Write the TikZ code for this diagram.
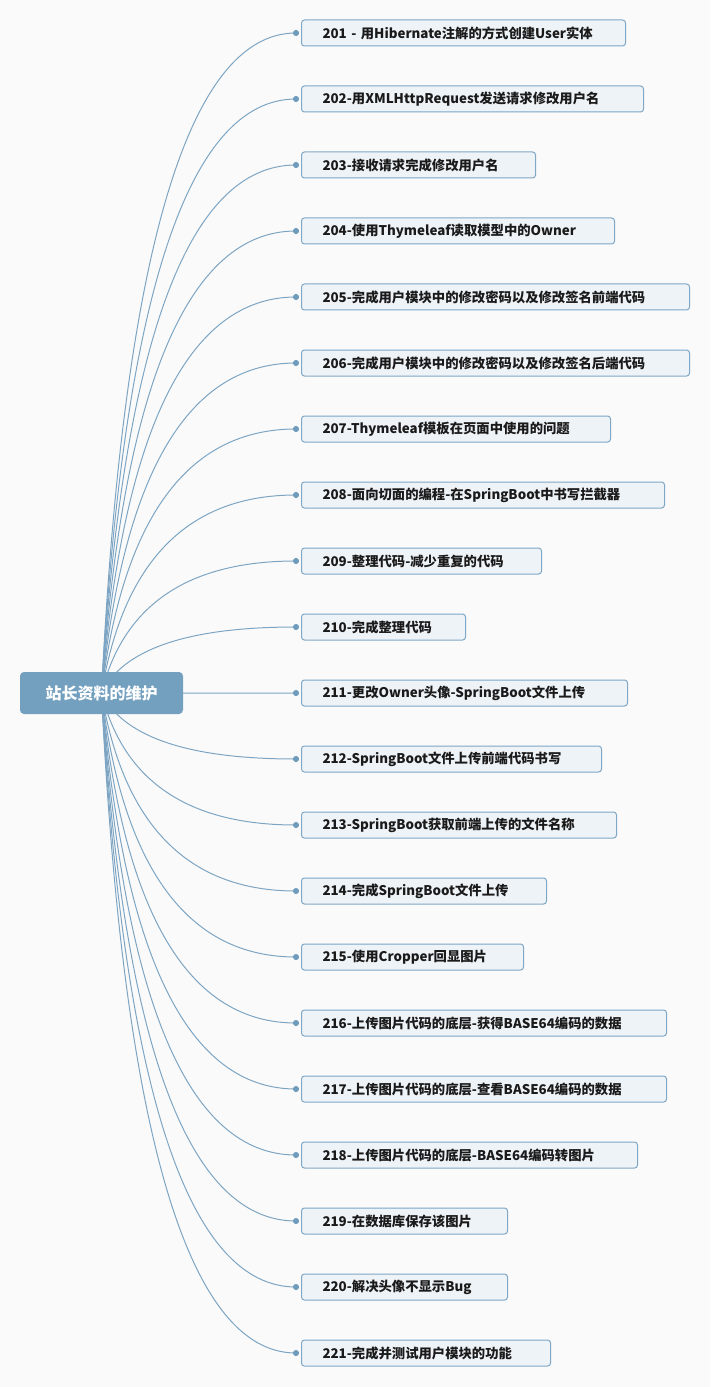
\documentclass[tikz,border=0pt]{standalone}
\usepackage{fontspec}
\setmainfont{Noto Sans CJK SC}
\newfontfamily\cjk{Noto Sans CJK SC}
\usetikzlibrary{calc}
\pgfdeclarelayer{bg}\pgfdeclarelayer{edges}
\pgfsetlayers{bg,edges,main}
\definecolor{pagebg}{HTML}{FAFAFA}
\definecolor{rootfill}{HTML}{74A0C0}
\definecolor{edgec}{HTML}{7DA5C3}
\definecolor{boxfill}{HTML}{EEF3F7}
\definecolor{boxdraw}{HTML}{7FA7C6}
\definecolor{dotc}{HTML}{6F9BBD}
\definecolor{txt}{HTML}{1A1A1A}
\tikzset{
  rootbox/.style={fill=rootfill, rounded corners=3pt, minimum width=122.25pt, minimum height=31.5pt,
    text=white, font=\cjk\bfseries\fontsize{12pt}{14pt}\selectfont, inner sep=0pt},
  childbox/.style={fill=boxfill, draw=boxdraw, line width=0.75pt, rounded corners=2.2pt,
    minimum height=19.5pt, inner xsep=15.75pt, inner ysep=0pt, align=left, anchor=west,
    text=txt, font=\cjk\bfseries\fontsize{10pt}{11.5pt}\selectfont},
  edge/.style={draw=edgec, line width=0.75pt},
  dotmark/.style={fill=dotc}
}
\begin{document}
\begin{tikzpicture}[x=0.75pt,y=-0.75pt]
\begin{pgfonlayer}{bg}
\fill[pagebg] (0,0) rectangle (710,1387);
\end{pgfonlayer}
\useasboundingbox (0,0) rectangle (710,1387);
\node[rootbox] (root) at (101.5,693) {站长资料的维护};
\coordinate (cx) at (134,693);
\foreach \n/\r/\t [count=\i from 0] in {
 201/625/{201 - 用Hibernate注解的方式创建User实体},
 202/643/{202-用XMLHttpRequest发送请求修改用户名},
 203/535/{203-接收请求完成修改用户名},
 204/614/{204-使用Thymeleaf读取模型中的Owner},
 205/689/{205-完成用户模块中的修改密码以及修改签名前端代码},
 206/689/{206-完成用户模块中的修改密码以及修改签名后端代码},
 207/610/{207-Thymeleaf模板在页面中使用的问题},
 208/664/{208-面向切面的编程-在SpringBoot中书写拦截器},
 209/541/{209-整理代码-减少重复的代码},
 210/465/{210-完成整理代码},
 211/627/{211-更改Owner头像-SpringBoot文件上传},
 212/601/{212-SpringBoot文件上传前端代码书写},
 213/616/{213-SpringBoot获取前端上传的文件名称},
 214/546/{214-完成SpringBoot文件上传},
 215/523/{215-使用Cropper回显图片},
 216/666/{216-上传图片代码的底层-获得BASE64编码的数据},
 217/666/{217-上传图片代码的底层-查看BASE64编码的数据},
 218/637/{218-上传图片代码的底层-BASE64编码转图片},
 219/507/{219-在数据库保存该图片},
 220/507/{220-解决头像不显示Bug},
 221/550/{221-完成并测试用户模块的功能}}{
  \pgfmathsetmacro\yy{33+66*\i}
  \pgfmathsetmacro\tw{(\r-301-42)*0.75}
  \node[childbox, text width=\tw pt] (c\n) at (301,\yy) {\mbox{\t}};
  \coordinate (d\n) at (296,\yy);
  \fill[dotmark] (d\n) circle (2.3pt);
  \begin{pgfonlayer}{edges}
  \draw[edge] (root.center) .. controls ($(root.center)!0.6667!(cx |- d\n)$) and ($(d\n)!0.6667!(cx |- d\n)$) .. (d\n);
  \end{pgfonlayer}
}
\end{tikzpicture}
\end{document}
